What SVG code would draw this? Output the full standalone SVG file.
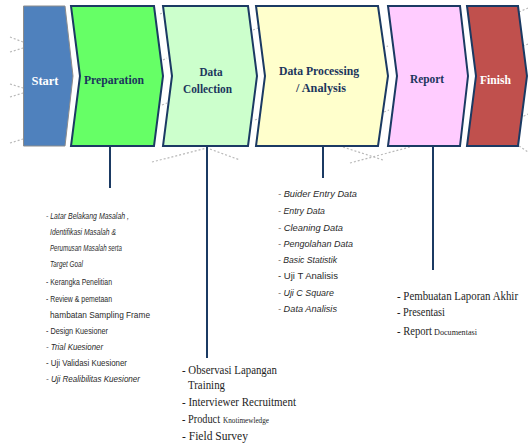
<svg xmlns="http://www.w3.org/2000/svg" width="528" height="444" viewBox="0 0 528 444">
  <style>
    .stage { stroke: #1b3a63; stroke-width: 2; stroke-linejoin: miter; }
    .title { font-family: "Liberation Serif", "DejaVu Serif", serif; font-weight: bold; font-size: 13.5px; fill: #1b355c; text-anchor: middle; }
    .light { fill: #ffffff; }
    .link { stroke: #1b3a63; stroke-width: 2; fill: none; }
    .deco { stroke: #b9b9b9; stroke-width: 1.2; stroke-dasharray: 2 2; fill: none; }
    .sans { font-family: "Liberation Sans", Arial, sans-serif; font-size: 9px; fill: #2a2a2a; }
    .serif { font-family: "Liberation Serif", "Times New Roman", serif; font-size: 11.5px; fill: #1e1e1e; }
    .small { font-size: 8.5px; }
    .it { font-style: italic; }
  </style>

  <!-- faint dashed background strokes -->
  <g id="background">
    <path class="deco" d="M10 37 L23 42 M10 52 L23 48 M10 84 L23 88 M10 97 L23 93 M10 143 L23 139"/>
    <path class="deco" d="M152 162 L207 148 L240 160"/>
    <path class="deco" d="M343 147 L383 160 M350 163 L410 147"/>
    <path class="deco" d="M519 12 L528 8 M519 48 L528 44 M520 118 L528 114 M519 146 L528 152"/>
    <path class="deco" d="M160 14 L165 12 M163 60 L167 58 M162 105 L167 103 M253 30 L258 28 M255 120 L260 118 M383 48 L388 46 M384 112 L389 110"/>
  </g>

  <!-- process stages -->
  <g id="start">
    <path d="M23.5 6 L65 6 L73 76 L65 146 L23.5 146 Z" fill="#4f81bd" stroke="#8c8c8c" stroke-width="1"/>
    <text class="title light" x="45" y="85" textLength="27" lengthAdjust="spacingAndGlyphs">Start</text>
  </g>
  <g id="preparation">
    <path class="stage" d="M71 6 L154 6 L163 76 L154 146 L71 146 L80 76 Z" fill="#66ff66"/>
    <text class="title" x="114" y="84" textLength="60" lengthAdjust="spacingAndGlyphs">Preparation</text>
  </g>
  <g id="data-collection">
    <path class="stage" d="M163 6 L248 6 L257 76 L248 146 L163 146 L172 76 Z" fill="#ccffcc"/>
    <text class="title" x="211" y="76" textLength="23" lengthAdjust="spacingAndGlyphs">Data</text>
    <text class="title" x="207.5" y="93" textLength="49" lengthAdjust="spacingAndGlyphs">Collection</text>
  </g>
  <g id="data-processing">
    <path class="stage" d="M256 6 L378 6 L388 76 L378 146 L256 146 L265 76 Z" fill="#ffffcc"/>
    <text class="title" x="319" y="75" textLength="80" lengthAdjust="spacingAndGlyphs">Data Processing</text>
    <text class="title" x="321" y="92" textLength="50" lengthAdjust="spacingAndGlyphs">/ Analysis</text>
  </g>
  <g id="report">
    <path class="stage" d="M388 6 L460 6 L468 76 L460 146 L388 146 L397 76 Z" fill="#ffccff"/>
    <text class="title" x="427" y="83" textLength="34" lengthAdjust="spacingAndGlyphs">Report</text>
  </g>
  <g id="finish">
    <path class="stage" d="M467 6 L518 6 L527 76 L518 146 L467 146 L476 76 Z" fill="#c0504d"/>
    <text class="title light" x="495.5" y="84" textLength="31" lengthAdjust="spacingAndGlyphs">Finish</text>
  </g>

  <!-- drop lines from each stage to its task list -->
  <g id="connectors">
    <line class="link" x1="110" y1="146" x2="110" y2="188"/>
    <line class="link" x1="207" y1="146" x2="207" y2="358"/>
    <line class="link" x1="323" y1="146" x2="323" y2="178"/>
    <line class="link" x1="433" y1="146" x2="433" y2="270"/>
  </g>

  <!-- task lists -->
  <g id="preparation-tasks" class="sans">
    <text class="it" x="46" y="219" textLength="83" lengthAdjust="spacingAndGlyphs">- Latar  Belakang   Masalah ,</text>
    <text class="it" x="50" y="235" textLength="66" lengthAdjust="spacingAndGlyphs">Identifikasi   Masalah &amp;</text>
    <text class="it" x="50" y="251" textLength="72" lengthAdjust="spacingAndGlyphs">Perumusan   Masalah  serta</text>
    <text class="it" x="50" y="267" textLength="33" lengthAdjust="spacingAndGlyphs">Target Goal</text>
    <text x="46" y="285" textLength="66" lengthAdjust="spacingAndGlyphs">- Kerangka    Penelitian</text>
    <text x="46" y="302" textLength="66" lengthAdjust="spacingAndGlyphs">-  Review &amp; pemetaan</text>
    <text x="50" y="318" textLength="100" lengthAdjust="spacingAndGlyphs">hambatan   Sampling   Frame</text>
    <text x="46" y="334" textLength="62" lengthAdjust="spacingAndGlyphs">- Design  Kuesioner</text>
    <text class="it" x="46" y="350" textLength="57" lengthAdjust="spacingAndGlyphs">- Trial  Kuesioner</text>
    <text x="46" y="366" textLength="81" lengthAdjust="spacingAndGlyphs">- Uji  Validasi   Kuesioner</text>
    <text class="it" x="46" y="382" textLength="94" lengthAdjust="spacingAndGlyphs">- Uji  Realibilitas   Kuesioner</text>
  </g>

  <g id="collection-tasks" class="serif">
    <text x="182" y="374" textLength="95" lengthAdjust="spacingAndGlyphs">- Observasi  Lapangan</text>
    <text x="188" y="389" textLength="37" lengthAdjust="spacingAndGlyphs">Training</text>
    <text x="182" y="406" textLength="114" lengthAdjust="spacingAndGlyphs">- Interviewer Recruitment</text>
    <text x="182" y="423"><tspan textLength="38" lengthAdjust="spacingAndGlyphs">- Product</tspan><tspan class="small" x="223" textLength="46" lengthAdjust="spacingAndGlyphs">Knotimewledge</tspan></text>
    <text x="182" y="440" textLength="66" lengthAdjust="spacingAndGlyphs">- Field Survey</text>
  </g>

  <g id="processing-tasks" class="sans">
    <text class="it" x="278" y="197" textLength="79" lengthAdjust="spacingAndGlyphs">- Buider   Entry Data</text>
    <text class="it" x="278" y="214" textLength="47" lengthAdjust="spacingAndGlyphs">- Entry Data</text>
    <text class="it" x="278" y="231" textLength="65" lengthAdjust="spacingAndGlyphs">- Cleaning Data</text>
    <text class="it" x="278" y="247" textLength="75" lengthAdjust="spacingAndGlyphs">- Pengolahan   Data</text>
    <text class="it" x="278" y="263" textLength="59" lengthAdjust="spacingAndGlyphs">- Basic  Statistik</text>
    <text x="278" y="279" textLength="60" lengthAdjust="spacingAndGlyphs">- Uji  T Analisis</text>
    <text class="it" x="278" y="296" textLength="56" lengthAdjust="spacingAndGlyphs">- Uji  C Square</text>
    <text class="it" x="278" y="312" textLength="59" lengthAdjust="spacingAndGlyphs">- Data Analisis</text>
  </g>

  <g id="report-tasks" class="serif">
    <text x="397" y="300" textLength="121" lengthAdjust="spacingAndGlyphs">- Pembuatan  Laporan  Akhir</text>
    <text x="397" y="316" textLength="48" lengthAdjust="spacingAndGlyphs">- Presentasi</text>
    <text x="397" y="335"><tspan textLength="35" lengthAdjust="spacingAndGlyphs">- Report</tspan><tspan class="small" x="434" textLength="43" lengthAdjust="spacingAndGlyphs">Documentasi</tspan></text>
  </g>
</svg>
